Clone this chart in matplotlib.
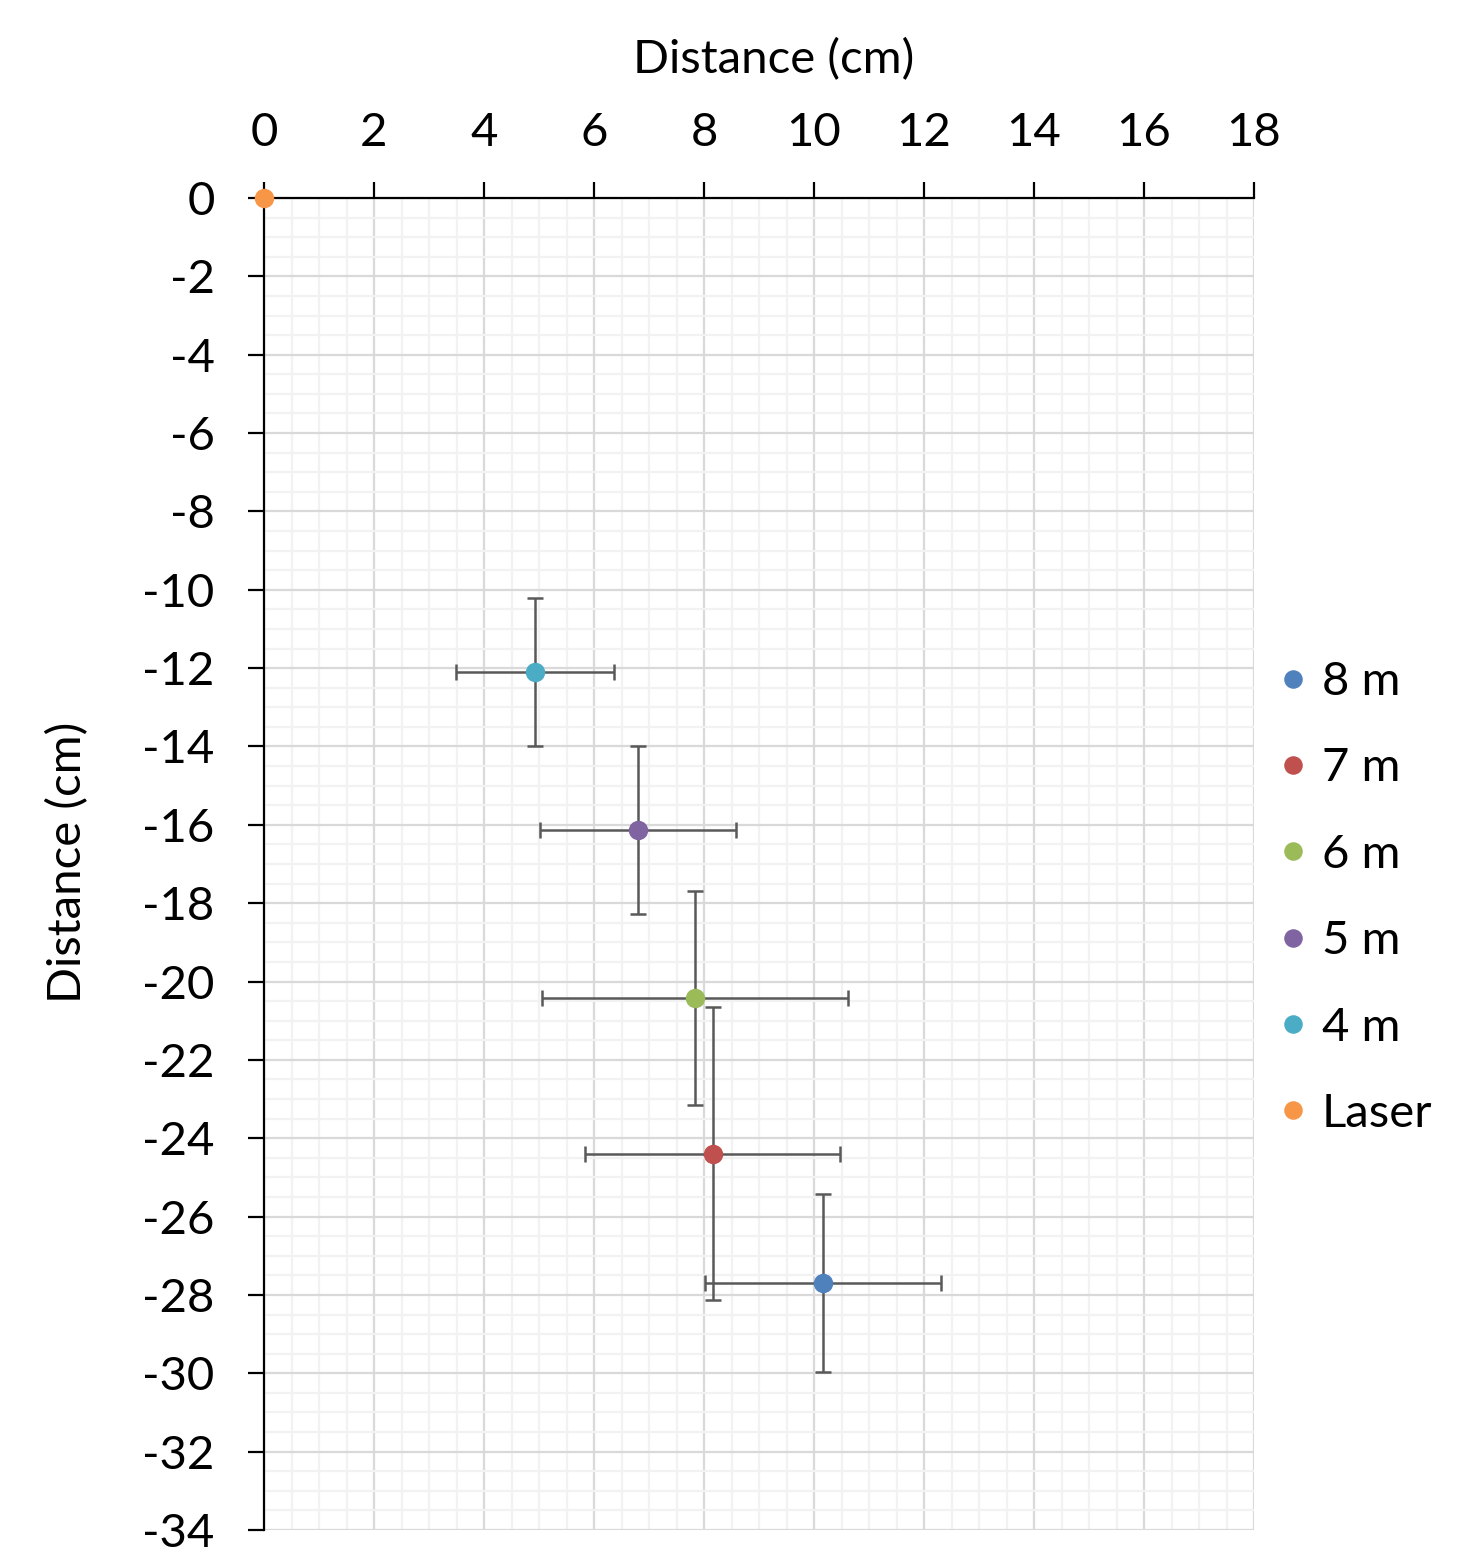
import matplotlib.pyplot as plt
from matplotlib.ticker import MultipleLocator

plt.rcParams['font.family'] = ['Lato', 'DejaVu Sans']
plt.rcParams['axes.unicode_minus'] = False

# series in legend order
labels = ["8 m", "7 m", "6 m", "5 m", "4 m", "Laser"]
colors = ["#4F81BD", "#C0504D", "#9BBB59", "#8064A2", "#4BACC6", "#F79646"]
x_vals = [10.16, 8.16, 7.84, 6.80, 4.93, 0.0]
y_vals = [-27.69, -24.40, -20.42, -16.13, -12.10, 0.0]
x_err = [2.14, 2.32, 2.78, 1.79, 1.44, None]
y_err = [2.27, 3.74, 2.72, 2.14, 1.88, None]

fs = 34

fig = plt.figure(figsize=(14.83, 15.48), dpi=100)
ax = fig.add_axes([264 / 1483, 18 / 1548, 990 / 1483, 1332 / 1548])

for lab, col, x, y, xe, ye in zip(labels, colors, x_vals, y_vals, x_err, y_err):
    if xe is not None:
        ax.errorbar(x, y, xerr=xe, yerr=ye, fmt='none', ecolor='#595959',
                    elinewidth=1.8, capsize=6, capthick=1.8, zorder=3)
    ax.plot(x, y, 'o', color=col, markersize=13, label=lab, zorder=4,
            clip_on=False)

ax.set_xlim(0, 18)
ax.set_ylim(-34, 0)
ax.xaxis.set_major_locator(MultipleLocator(2))
ax.xaxis.set_minor_locator(MultipleLocator(0.5))
ax.yaxis.set_major_locator(MultipleLocator(2))
ax.yaxis.set_minor_locator(MultipleLocator(0.5))
ax.grid(which='major', color='#D9D9D9', linewidth=1.6, zorder=0)
ax.grid(which='minor', color='#F2F2F2', linewidth=1.6, zorder=0)
ax.set_axisbelow(True)

ax.xaxis.tick_top()
ax.xaxis.set_label_position('top')
for side in ['right', 'bottom']:
    ax.spines[side].set_visible(False)
for side in ['top', 'left']:
    ax.spines[side].set_linewidth(1.6)
    ax.spines[side].set_color('black')
ax.tick_params(which='major', direction='out', length=11.5, width=1.6,
               labelsize=fs)
ax.tick_params(axis='x', which='major', pad=20)
ax.tick_params(axis='y', which='major', pad=24)
ax.tick_params(which='minor', length=0)

ax.set_xlabel("Distance (cm)", fontsize=fs)
ax.set_ylabel("Distance (cm)", fontsize=fs)
ax.xaxis.set_label_coords((774 - 264) / 990, (1530 - 60) / 1332)
ax.xaxis.label.set_verticalalignment('center')
ax.yaxis.set_label_coords((68 - 264) / 990, (1530 - 862) / 1332)
ax.yaxis.label.set_verticalalignment('center')
ax.yaxis.label.set_horizontalalignment('center')

fig.legend(loc='center left', bbox_to_anchor=(1279 / 1483, (1548 - 898) / 1548),
           frameon=False, fontsize=fs, borderpad=0, borderaxespad=0,
           handletextpad=0.3, labelspacing=0.94, markerscale=0.95,
           handlelength=0.6)

fig.savefig("out.png", dpi=100)
